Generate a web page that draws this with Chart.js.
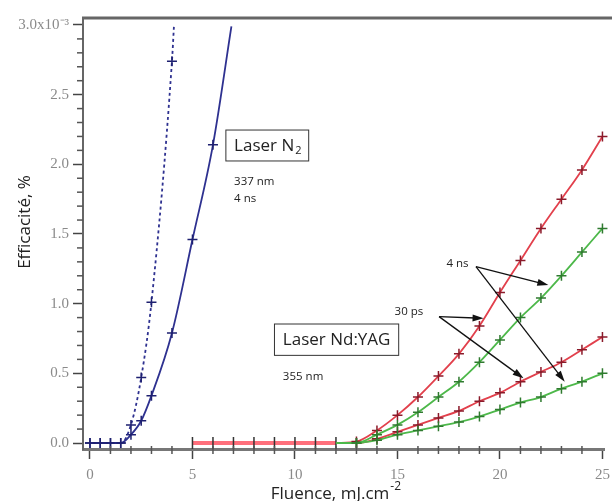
<!DOCTYPE html>
<html>
<head>
<meta charset="utf-8">
<script src="https://cdn.jsdelivr.net/npm/chart.js@4.4.1/dist/chart.umd.min.js"></script>
<style>
  body { margin: 0; background: #fff; }
  #wrap { width: 612px; height: 501px; }
</style>
</head>
<body>
<div id="wrap"><canvas id="chart" width="612" height="501"></canvas></div>
<script>
// Laser N2 (337 nm) curves
const n2DashX = [0, 0.5, 1, 1.5, 2, 2.5, 3, 4, 4.1];
const n2DashY = [0, 0, 0, 0, 0.13, 0.47, 1.01, 2.74, 3.0];
const n2SolidX = [0, 0.5, 1, 1.5, 2, 2.5, 3, 4, 5, 6, 6.9];
const n2SolidY = [0, 0, 0, 0, 0.06, 0.16, 0.34, 0.79, 1.46, 2.14, 2.99];

// Laser Nd:YAG (355 nm) curves
const flatX = [5, 6, 7, 8, 9, 10, 11, 12];
const flatY = [0, 0, 0, 0, 0, 0, 0, 0];
const yagX = [12, 13, 14, 15, 16, 17, 18, 19, 20, 21, 22, 23, 24, 25];
const red4ns = [0, 0.01, 0.09, 0.2, 0.33, 0.48, 0.64, 0.84, 1.08, 1.31, 1.54, 1.75, 1.96, 2.2];
const green4ns = [0, 0.0, 0.06, 0.13, 0.22, 0.33, 0.44, 0.58, 0.74, 0.9, 1.04, 1.2, 1.37, 1.54];
const red30ps = [0, 0.0, 0.03, 0.08, 0.13, 0.18, 0.23, 0.3, 0.36, 0.44, 0.51, 0.58, 0.67, 0.76];
const green30ps = [0, 0.0, 0.02, 0.06, 0.09, 0.12, 0.15, 0.19, 0.24, 0.29, 0.33, 0.39, 0.44, 0.5];

const xMajor = [0, 5, 10, 15, 20, 25];
const yMajor = [0, 0.5, 1.0, 1.5, 2.0, 2.5, 3.0];

function pts(xs, ys) {
    return xs.map((x, i) => ({ x: x, y: ys[i] }));
}
function radii(n, first, last) {
    // no marker on the ends that only continue the line
    return Array.from({ length: n }, (_, i) => (i < first || i > last) ? 0 : 5);
}

const BLUE = '#2e3190';
const RED = '#e2404c';
const GREEN = '#4db84a';

function isMajorX(v) { return xMajor.some(m => Math.abs(m - v) < 1e-6); }
function isMajorY(v) { return yMajor.some(m => Math.abs(m - v) < 1e-6); }

// minor ticks, top frame, titles, boxes, arrows
const decor = {
    id: 'decor',
    afterDraw(chart) {
        const c = chart.ctx;
        const xs = chart.scales.x, ys = chart.scales.y;
        const area = chart.chartArea;
        const X = v => xs.getPixelForValue(v);
        const Y = v => ys.getPixelForValue(v);
        c.save();

        // minor ticks
        c.strokeStyle = '#555';
        c.lineWidth = 1.5;
        for (let v = 1; v < 25.5; v++) {
            if (v % 5 === 0) continue;
            c.beginPath();
            c.moveTo(X(v), area.bottom - 3);
            c.lineTo(X(v), area.bottom + 5);
            c.stroke();
        }
        for (let k = 1; k <= 30; k++) {
            if (k % 5 === 0) continue;
            const py = Y(k / 10);
            c.beginPath();
            c.moveTo(area.left - 6, py);
            c.lineTo(area.left, py);
            c.stroke();
        }

        // top frame
        c.strokeStyle = '#666';
        c.lineWidth = 3;
        c.beginPath();
        c.moveTo(area.left - 1, area.top);
        c.lineTo(chart.width, area.top);
        c.stroke();

        // axis titles
        c.fillStyle = '#222';
        c.font = '17px "Open Sans"';
        c.textAlign = 'center';
        c.textBaseline = 'middle';
        c.save();
        c.translate(25, 222);
        c.rotate(-Math.PI / 2);
        c.fillText('Efficacité, %', 0, 0);
        c.restore();
        const xt = 'Fluence, mJ.cm';
        const w = c.measureText(xt).width;
        c.textAlign = 'left';
        const x0 = 336 - (w + 12) / 2;
        c.fillText(xt, x0, 494);
        c.font = '12px "Open Sans"';
        c.fillText('-2', x0 + w + 1, 487);

        // boxes
        c.strokeStyle = '#333';
        c.lineWidth = 1;
        c.strokeRect(X(6.63), Y(2.246), X(10.67) - X(6.63), Y(2.024) - Y(2.246));
        c.strokeRect(X(9.0), Y(0.854), X(15.06) - X(9.0), Y(0.629) - Y(0.854));
        c.fillStyle = '#222';
        c.font = '17px "Open Sans"';
        c.fillText('Laser N', X(7.03), Y(2.131));
        const wn = c.measureText('Laser N').width;
        c.font = '11px "Open Sans"';
        c.fillText('2', X(7.03) + wn + 1, Y(2.131) + 5);
        c.font = '17px "Open Sans"';
        c.fillText('Laser Nd:YAG', X(9.41), Y(0.739));

        // small labels
        c.font = '11.5px "Open Sans"';
        c.fillText('337 nm', X(7.03), Y(1.875));
        c.fillText('4 ns', X(7.03), Y(1.756));
        c.fillText('355 nm', X(9.41), Y(0.476));
        c.fillText('30 ps', X(14.86), Y(0.942));
        c.fillText('4 ns', X(17.39), Y(1.285));

        // arrows
        function arrow(ax, ay, bx, by) {
            const x1 = X(ax), y1 = Y(ay), x2 = X(bx), y2 = Y(by);
            const a = Math.atan2(y2 - y1, x2 - x1);
            c.strokeStyle = '#111';
            c.fillStyle = '#111';
            c.lineWidth = 1.3;
            c.beginPath();
            c.moveTo(x1, y1);
            c.lineTo(x2 - 8 * Math.cos(a), y2 - 8 * Math.sin(a));
            c.stroke();
            c.beginPath();
            c.moveTo(x2, y2);
            c.lineTo(x2 - 11 * Math.cos(a) + 3.5 * Math.sin(a), y2 - 11 * Math.sin(a) - 3.5 * Math.cos(a));
            c.lineTo(x2 - 11 * Math.cos(a) - 3.5 * Math.sin(a), y2 - 11 * Math.sin(a) + 3.5 * Math.cos(a));
            c.closePath();
            c.fill();
        }
        arrow(18.83, 1.266, 22.36, 1.134);
        arrow(18.83, 1.266, 23.16, 0.44);
        arrow(17.03, 0.907, 19.2, 0.895);
        arrow(17.03, 0.907, 21.15, 0.464);

        c.restore();
    }
};

function curve(xs, ys, color, markColor, opts) {
    return Object.assign({
        data: pts(xs, ys),
        showLine: true,
        borderColor: color,
        borderWidth: 1.8,
        pointStyle: 'cross',
        pointRadius: radii(xs.length, 1, xs.length - 1),
        pointBorderColor: markColor,
        pointBorderWidth: 1.5,
        cubicInterpolationMode: 'monotone',
        clip: false
    }, opts || {});
}

new Chart(document.getElementById('chart'), {
    type: 'scatter',
    data: {
        datasets: [
            curve(yagX, green30ps, GREEN, '#2f7a2f'),
            curve(yagX, green4ns, GREEN, '#2f7a2f'),
            curve(yagX, red30ps, RED, '#8a1a2a'),
            curve(yagX, red4ns, RED, '#8a1a2a'),
            {
                data: pts(flatX, flatY),
                showLine: true,
                borderColor: '#ff6f7c',
                borderWidth: 4,
                pointStyle: 'line',
                rotation: 90,
                pointRadius: 6,
                pointBorderColor: '#333',
                pointBorderWidth: 1.5
            },
            curve(n2DashX, n2DashY, BLUE, '#1e2070', {
                borderDash: [3, 3],
                pointRadius: radii(n2DashX.length, 0, n2DashX.length - 2)
            }),
            curve(n2SolidX, n2SolidY, BLUE, '#1e2070', {
                pointRadius: radii(n2SolidX.length, 0, n2SolidX.length - 2)
            })
        ]
    },
    options: {
        responsive: false,
        animation: false,
        layout: { padding: { top: 18, right: 0, left: 0, bottom: 0 } },
        plugins: { legend: { display: false }, tooltip: { enabled: false } },
        scales: {
            x: {
                type: 'linear',
                min: -0.34,
                max: 25.1,
                afterFit: s => { s.height = 52; s.paddingLeft = 0; s.paddingRight = 0; },
                ticks: {
                    stepSize: 1,
                    includeBounds: false,
                    autoSkip: false,
                    maxRotation: 0,
                    padding: 7,
                    color: '#8a8a8a',
                    font: { family: '"Liberation Serif"', size: 15 },
                    callback: v => isMajorX(v) ? String(Math.round(v)) : ''
                },
                grid: {
                    drawOnChartArea: false,
                    tickLength: 10,
                    tickWidth: 1.5,
                    tickColor: ctx => isMajorX(ctx.tick.value) ? '#444' : 'transparent'
                },
                border: { color: '#777', width: 3 }
            },
            y: {
                min: -0.043,
                max: 3.05,
                afterFit: s => { s.width = 83; s.paddingTop = 0; s.paddingBottom = 0; },
                ticks: {
                    stepSize: 0.1,
                    includeBounds: false,
                    autoSkip: false,
                    padding: 4,
                    color: '#8a8a8a',
                    font: { family: '"Liberation Serif"', size: 15 },
                    callback: v => {
                        if (!isMajorY(v)) return '';
                        if (Math.abs(v - 3) < 1e-6) return '3.0x10⁻³';
                        return v.toFixed(1);
                    }
                },
                grid: {
                    drawOnChartArea: false,
                    tickLength: 10,
                    tickWidth: 1.5,
                    tickColor: ctx => isMajorY(ctx.tick.value) ? '#444' : 'transparent'
                },
                border: { color: '#666', width: 2 }
            }
        }
    },
    plugins: [decor]
});
</script>
</body>
</html>
